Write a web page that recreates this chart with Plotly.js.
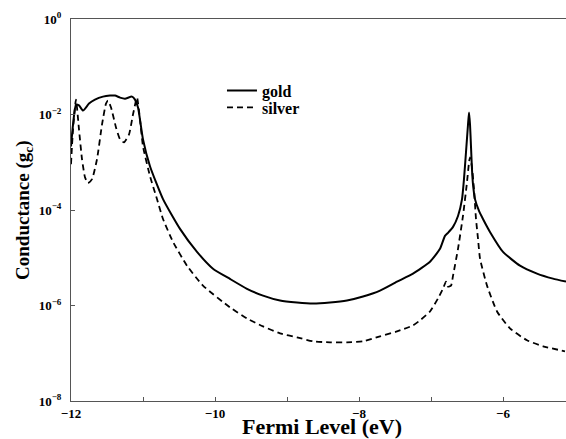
<!DOCTYPE html>
<html>
<head>
<meta charset="utf-8">
<script src="https://cdn.plot.ly/plotly-3.0.1.min.js"></script>
<style>html,body{margin:0;padding:0;background:#fff;}#chart{width:566px;height:439px;}</style>
</head>
<body>
<div id="chart"></div>
<script>
// Fermi level (eV) and conductance (g_c)
const goldX = [-12.0, -11.972, -11.931, -11.889, -11.833, -11.75, -11.667, -11.556, -11.458, -11.389, -11.319, -11.25, -11.153, -11.111, -11.069, -11.0, -10.903, -10.722, -10.486, -10.25, -10.028, -9.792, -9.556, -9.333, -9.097, -8.861, -8.639, -8.403, -8.167, -7.944, -7.708, -7.472, -7.25, -7.014, -6.875, -6.806, -6.764, -6.694, -6.625, -6.569, -6.542, -6.514, -6.486, -6.472, -6.458, -6.444, -6.431, -6.417, -6.389, -6.333, -6.278, -6.181, -6.0, -5.764, -5.528, -5.306, -5.125];
const goldY = [2.15e-3, 6.17e-3, 1.61e-2, 1.55e-2, 1.21e-2, 1.69e-2, 2.05e-2, 2.37e-2, 2.49e-2, 2.49e-2, 2.26e-2, 2.15e-2, 2.37e-2, 2.05e-2, 1.40e-2, 3.02e-3, 8.26e-4, 1.69e-4, 4.02e-5, 1.33e-5, 5.90e-6, 3.60e-6, 2.24e-6, 1.61e-6, 1.27e-6, 1.155e-6, 1.10e-6, 1.155e-6, 1.27e-6, 1.54e-6, 2.05e-6, 3.16e-6, 4.65e-6, 8.26e-6, 1.54e-5, 2.87e-5, 3.32e-5, 4.43e-5, 7.50e-5, 1.69e-4, 4.43e-4, 1.62e-3, 6.17e-3, 1.10e-2, 6.17e-3, 2.05e-3, 7.15e-4, 3.48e-4, 1.69e-4, 9.55e-5, 6.49e-5, 3.48e-5, 1.33e-5, 6.81e-6, 4.65e-6, 3.65e-6, 3.16e-6];

const silverX = [-12.0, -11.972, -11.931, -11.889, -11.847, -11.806, -11.764, -11.708, -11.639, -11.569, -11.514, -11.486, -11.444, -11.375, -11.319, -11.264, -11.194, -11.139, -11.083, -11.042, -11.0, -10.903, -10.806, -10.722, -10.583, -10.389, -10.167, -9.792, -9.556, -9.333, -9.097, -8.861, -8.639, -8.403, -8.167, -7.944, -7.708, -7.472, -7.25, -7.153, -7.014, -6.903, -6.833, -6.792, -6.764, -6.722, -6.694, -6.625, -6.556, -6.5, -6.472, -6.458, -6.431, -6.403, -6.375, -6.347, -6.319, -6.222, -6.083, -5.903, -5.667, -5.444, -5.139];
const silverY = [9.08e-4, 4.87e-3, 2.05e-2, 4.87e-3, 1.155e-3, 4.87e-4, 3.65e-4, 4.43e-4, 1.155e-3, 6.19e-3, 1.69e-2, 1.96e-2, 1.40e-2, 5.36e-3, 3.02e-3, 2.61e-3, 3.83e-3, 1.0e-2, 2.26e-2, 7.87e-3, 2.15e-3, 5.13e-4, 1.70e-4, 6.49e-5, 2.15e-5, 6.81e-6, 2.61e-6, 9.12e-7, 5.36e-7, 3.65e-7, 2.61e-7, 2.15e-7, 1.78e-7, 1.69e-7, 1.69e-7, 1.78e-7, 2.26e-7, 2.87e-7, 3.83e-7, 4.87e-7, 7.50e-7, 1.40e-6, 2.26e-6, 3.16e-6, 2.49e-6, 2.61e-6, 4.22e-6, 1.54e-5, 7.50e-5, 3.83e-4, 1.0e-3, 1.27e-3, 7.87e-4, 2.74e-4, 6.49e-5, 2.49e-5, 9.55e-6, 2.61e-6, 7.50e-7, 3.32e-7, 1.87e-7, 1.40e-7, 1.10e-7];

const seriesNames = ["gold", "silver"];
const xTickVals = [-12, -11, -10, -9, -8, -7, -6];
const xTickText = ["\u221212", "", "\u221210", "", "\u22128", "", "\u22126"];
const yTickVals = [1e-8, 1e-6, 1e-4, 1e-2, 1];
const yTickText = ["10<sup>\u22128</sup>", "10<sup>\u22126</sup>", "10<sup>\u22124</sup>", "10<sup>\u22122</sup>", "10<sup>0</sup>"];
const xTitle = "Fermi Level (eV)";
const yTitle = "Conductance (g<sub>c</sub>)";

const serif = "Liberation Serif, Times New Roman, serif";
const legendFont = {family: serif, size: 16, color: "#000", weight: "bold"};

const traces = [
  {x: goldX, y: goldY, name: seriesNames[0], mode: "lines", type: "scatter", legend: "legend",
   line: {color: "#000", width: 2, dash: "solid", shape: "spline", smoothing: 0.5}},
  {x: silverX, y: silverY, name: seriesNames[1], mode: "lines", type: "scatter", legend: "legend2",
   line: {color: "#000", width: 1.8, dash: "6px,4px", shape: "spline", smoothing: 0.5}}
];

const layout = {
  width: 566, height: 439,
  margin: {l: 71, r: 0, t: 19, b: 38},
  paper_bgcolor: "#fff", plot_bgcolor: "#fff",
  font: {family: serif, color: "#000"},
  showlegend: true,
  legend: {x: 0.305, y: 0.857, xanchor: "left", yanchor: "top", bgcolor: "rgba(0,0,0,0)", font: legendFont},
  legend2: {x: 0.305, y: 0.813, xanchor: "left", yanchor: "top", bgcolor: "rgba(0,0,0,0)", font: legendFont},
  xaxis: {
    range: [-12, -5.125], tickmode: "array", tickvals: xTickVals, ticktext: xTickText,
    ticks: "inside", ticklen: 4, tickcolor: "#555", tickwidth: 1,
    showline: true, linecolor: "#555", linewidth: 1, mirror: true,
    showgrid: false, zeroline: false, automargin: false,
    tickfont: {family: serif, size: 13, color: "#000", weight: "bold"}
  },
  yaxis: {
    type: "log", range: [-8, 0], tickmode: "array", tickvals: yTickVals, ticktext: yTickText,
    ticks: "inside", ticklen: 4, tickcolor: "#555", tickwidth: 1, ticklabelstandoff: 6,
    showline: true, linecolor: "#555", linewidth: 1, mirror: true,
    showgrid: false, zeroline: false, automargin: false,
    tickfont: {family: serif, size: 13, color: "#000", weight: "bold"}
  },
  annotations: [
    {text: "<b>" + xTitle + "</b>", xref: "paper", yref: "paper", x: 0.508, y: -0.068,
     xanchor: "center", yanchor: "middle", showarrow: false,
     font: {family: serif, size: 22, color: "#000"}},
    {text: "<b>" + yTitle + "</b>", xref: "paper", yref: "paper", x: -0.095, y: 0.5,
     xanchor: "center", yanchor: "middle", showarrow: false, textangle: -90,
     font: {family: serif, size: 19, color: "#000"}}
  ]
};

Plotly.newPlot("chart", traces, layout, {displayModeBar: false, staticPlot: true});
</script>
</body>
</html>
